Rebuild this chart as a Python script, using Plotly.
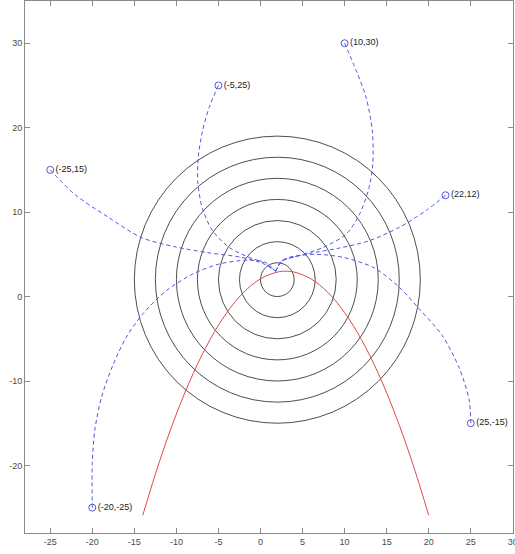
import plotly.graph_objects as go

# Concentric contour circles (centre and radii)
circle_cx = 2
circle_cy = 2
circle_radii = [2, 4.5, 7, 9.5, 12, 14.5, 17]

# Red constraint curve
curve_x = [-14, -12, -10, -8, -6, -4, -2, 0, 2, 3, 4, 6, 8, 10, 12, 14, 16, 18, 20]
curve_y = [-25.9, -19.5, -13.9, -9.1, -5.1, -1.9, 0.5, 2.1, 2.9, 3.0, 2.9, 2.1, 0.5, -1.9, -5.1, -9.1, -13.9, -19.5, -25.9]

# Start points and their labels
start_x = [-25, -5, 10, 22, 25, -20]
start_y = [15, 25, 30, 12, -15, -25]
start_labels = [f"({x},{y})" for x, y in zip(start_x, start_y)]

# Axis ticks
x_ticks = [-25, -20, -15, -10, -5, 0, 5, 10, 15, 20, 25, 30]
x_tick_labels = ["-25", "-20", "-15", "-10", "-5", "0", "5", "10", "15", "20", "25", "30"]
y_ticks = [-20, -10, 0, 10, 20, 30]
y_tick_labels = ["-20", "-10", "0", "10", "20", "30"]

# Dashed paths
path_a_x = [-25, -22.1, -18.1, -14.2, -10.2, -6.3, -2.3, 0.2, 1.8]
path_a_y = [15, 12.1, 9.4, 7.0, 5.9, 5.2, 4.65, 3.95, 3.0]

path_b_x = [-5, -6.1, -6.9, -7.4, -7.45, -6.9, -5.7, -3.7, -1.5, 0.4, 1.8]
path_b_y = [25, 22.4, 19.6, 16.5, 13.5, 10.4, 7.8, 5.8, 4.7, 4.0, 3.0]

path_c_x = [10, 11.4, 12.55, 13.3, 13.35, 12.9, 11.8, 10.2, 7.4, 4.6, 2.6, 1.8]
path_c_y = [30, 26.7, 23.6, 19.6, 15.7, 12.9, 9.8, 7.4, 5.8, 4.85, 4.2, 3.0]

path_d_x = [22, 19.7, 16.5, 12.9, 9.4, 5.8, 3.4, 2.5, 1.8]
path_d_y = [12, 10.2, 8.2, 6.6, 5.75, 5.1, 4.55, 4.2, 3.0]

path_e_x = [25, 24.8, 23.6, 21.6, 18.9, 16.5, 13.5, 9.8, 6.5, 3.6, 2.5, 1.8]
path_e_y = [-15, -12.2, -8.4, -4.6, -1.5, 1.1, 3.4, 4.65, 5.0, 4.7, 4.2, 3.0]

path_f_x = [-20, -20, -19.7, -18.9, -17.5, -15.95, -14, -11.2, -8.0, -4.9, -1.7, 0.5, 1.8]
path_f_y = [-25, -19.8, -15.8, -11.9, -8.0, -4.8, -2.05, 0.7, 2.7, 3.86, 4.3, 4.1, 3.0]

paths = [
    (path_a_x, path_a_y),
    (path_b_x, path_b_y),
    (path_c_x, path_c_y),
    (path_d_x, path_d_y),
    (path_e_x, path_e_y),
    (path_f_x, path_f_y),
]

BLUE = "#5555e0"
FONT = "Liberation Sans, Arial, sans-serif"
fig = go.Figure()

for r in circle_radii:
    fig.add_shape(type="circle", xref="x", yref="y",
                  x0=circle_cx - r, x1=circle_cx + r,
                  y0=circle_cy - r, y1=circle_cy + r,
                  line=dict(color="#3a3a3a", width=0.9), layer="below")

fig.add_trace(go.Scatter(x=curve_x, y=curve_y, mode="lines",
                         line=dict(color="#e0484a", width=1, shape="spline"),
                         hoverinfo="skip"))

for px, py in paths:
    fig.add_trace(go.Scatter(x=px, y=py, mode="lines",
                             line=dict(color=BLUE, width=1, dash="4px,3px", shape="spline", smoothing=0.8),
                             hoverinfo="skip"))

fig.add_trace(go.Scatter(x=start_x, y=start_y, mode="markers+text",
                         text=start_labels, textposition="middle right",
                         textfont=dict(family=FONT, size=9, color="#222222"),
                         marker=dict(symbol="circle-open", size=7, color=BLUE, line=dict(width=1, color=BLUE)),
                         cliponaxis=False, hoverinfo="skip"))

axis_common = dict(
    showgrid=False, zeroline=False, showline=True, linecolor="#8a8a8a", linewidth=1,
    mirror="ticks", ticks="inside", ticklen=5, tickcolor="#8a8a8a", tickwidth=1,
    tickfont=dict(family=FONT, size=9, color="#4a4a4a"), automargin=False,
    ticklabeloverflow="allow",
)

fig.update_xaxes(range=[-28, 30.02], tickmode="array", tickvals=x_ticks, ticktext=x_tick_labels, **axis_common)
fig.update_yaxes(range=[-28, 35], tickmode="array", tickvals=y_ticks, ticktext=y_tick_labels, **axis_common)

fig.update_layout(
    width=515, height=554,
    margin=dict(l=25, r=2, t=1, b=21, autoexpand=False),
    paper_bgcolor="white", plot_bgcolor="white",
    showlegend=False,
)

fig.write_html("out.html", config={"displayModeBar": False, "staticPlot": True},
               post_script="document.body.style.margin='0';document.body.style.overflow='hidden';")
